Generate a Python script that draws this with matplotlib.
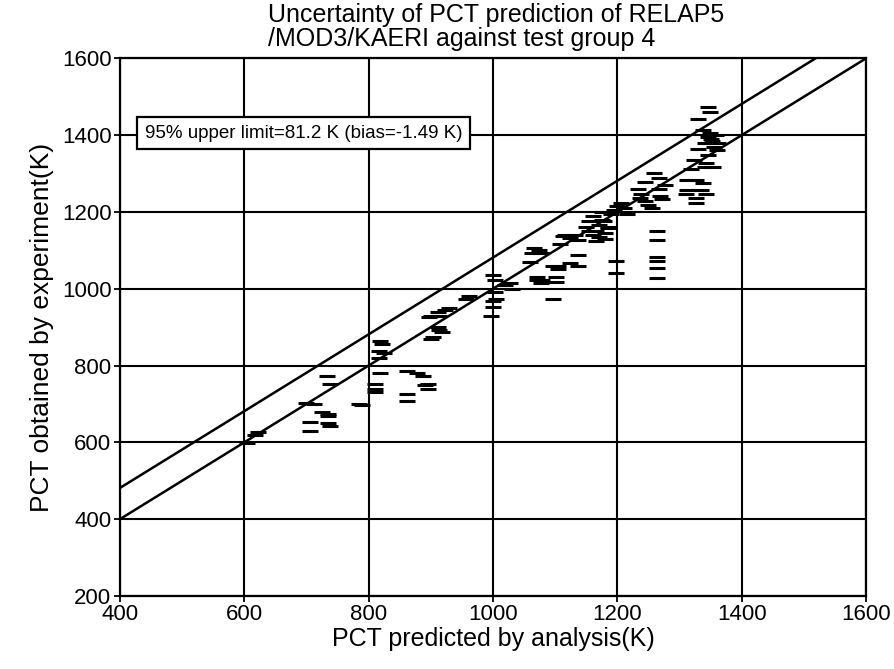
import matplotlib
matplotlib.use("Agg")
import matplotlib.pyplot as plt

plt.rcParams["font.family"] = ["Liberation Sans", "DejaVu Sans"]

# PCT pairs (predicted by analysis, measured in experiment), K
pct_pred = [
    605, 622, 618,
    700, 712, 725, 735, 735, 705, 735, 705, 738, 733, 738,
    785, 790,
    819, 822, 816, 824, 816, 818, 810, 811, 811,
    862, 878, 895, 895, 862, 862, 887, 890,
    897, 913, 911, 913, 903, 912, 901, 918, 901, 922, 930,
    962, 956,
    1000, 1003, 1003, 1005, 1000, 997, 1019, 1030, 1027, 1000,
    1066, 1077, 1060, 1071, 1079, 1071, 1077, 1063, 1074,
    1104, 1104, 1137, 1101, 1101, 1096, 1112, 1123, 1107, 1137, 1123,
    1115, 1132, 1137, 1096,
    1150, 1155, 1160, 1165, 1170, 1175, 1180, 1185, 1170, 1160, 1178,
    1184, 1175, 1165, 1190, 1155, 1180,
    1197, 1197, 1195, 1205, 1211, 1216, 1200,
    1244, 1233, 1238, 1236, 1244, 1266, 1277, 1266, 1268, 1271, 1249,
    1255, 1258,
    1264, 1264, 1264, 1264, 1264, 1264,
    1345, 1348, 1329, 1337, 1348, 1345, 1352, 1340, 1355, 1329, 1345,
    1323, 1342, 1318, 1340, 1353, 1312, 1326, 1337, 1312, 1334, 1310,
    1342, 1326, 1326, 1350, 1358, 1362, 1360,
]
pct_exp = [
    598, 628, 620,
    702, 700, 679, 675, 668, 652, 650, 630, 642, 772, 753,
    700, 698,
    865, 856, 837, 832, 819, 781, 753, 739, 730,
    786, 781, 753, 739, 726, 707, 772, 749,
    926, 930, 900, 893, 874, 940, 930, 888, 870, 945, 950,
    981, 972,
    1037, 1022, 991, 973, 953, 930, 1009, 1000, 1014, 967,
    1107, 1093, 1070, 1031, 1022, 1023, 1014, 1093, 1102,
    1060, 1051, 1060, 1031, 1018, 973, 1138, 1133, 1116, 1089, 1067,
    1140, 1140, 1126, 1058,
    1160, 1175, 1190, 1150, 1165, 1180, 1145, 1160, 1135, 1140, 1177,
    1158, 1200, 1125, 1195, 1150, 1130,
    1071, 1040, 1205, 1223, 1209, 1195, 1215,
    1279, 1260, 1247, 1237, 1228, 1288, 1270, 1260, 1242, 1233, 1219,
    1210, 1300,
    1150, 1128, 1082, 1073, 1054, 1028,
    1474, 1460, 1442, 1414, 1405, 1395, 1385, 1378, 1370, 1363, 1349,
    1335, 1326, 1312, 1316, 1316, 1284, 1284, 1274, 1256, 1256, 1247,
    1247, 1237, 1223, 1390, 1400, 1380, 1360,
]

upper_limit = 81.2
bias = -1.49
ref_x = [400, 1600]

fig = plt.figure(figsize=(8.94, 6.69), dpi=100)
ax = fig.add_axes([0.134, 0.109, 0.835, 0.804])

ax.plot(ref_x, ref_x, color="black", lw=1.8, zorder=3)
ax.plot(ref_x, [v + upper_limit for v in ref_x], color="black", lw=1.8, zorder=3)
ax.plot(pct_pred, pct_exp, ls="none", marker="_", ms=11, mew=2.2,
        color="black", zorder=4)

ax.set_xlim(400, 1600)
ax.set_ylim(200, 1600)
ax.set_xticks(range(400, 1601, 200))
ax.set_yticks(range(200, 1601, 200))
ax.grid(True, color="black", lw=1.5)
ax.set_axisbelow(True)
for sp in ax.spines.values():
    sp.set_linewidth(1.6)
ax.tick_params(direction="inout", length=8, width=1.3, labelsize=16, pad=2)

ax.text(440, 1405,
        f"95% upper limit={upper_limit} K (bias={bias} K)",
        fontsize=13.5, va="center", ha="left", zorder=5,
        bbox=dict(boxstyle="square,pad=0.4", fc="white", ec="black", lw=1.6))

# two-line title, left aligned as one block
fig.text(0.300, 0.995, "Uncertainty of PCT prediction of RELAP5\n"
         "/MOD3/KAERI against test group 4", fontsize=18, ha="left",
         va="top", linespacing=1.0)
ax.set_xlabel("PCT predicted by analysis(K)", fontsize=18, labelpad=1)
ax.set_ylabel("PCT obtained by experiment(K)", fontsize=19, labelpad=6)

fig.savefig("out.png", dpi=100)
